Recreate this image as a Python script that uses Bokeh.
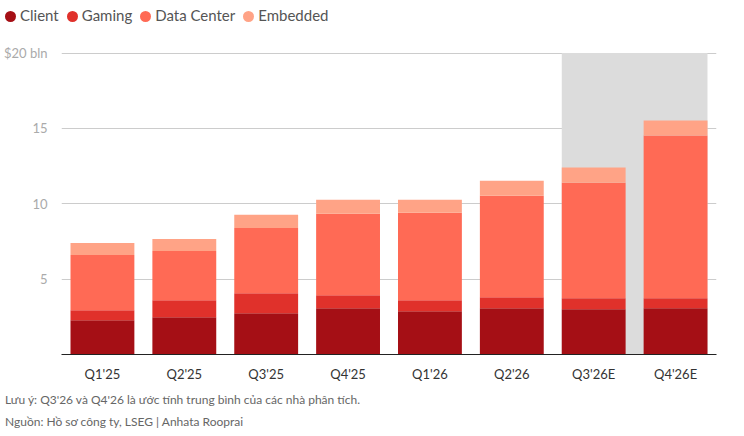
from bokeh.plotting import figure
from bokeh.models import FixedTicker, Div, ColumnDataSource
from bokeh.layouts import column
from bokeh.embed import file_html
from bokeh.resources import INLINE

quarters = ["Q1'25", "Q2'25", "Q3'25", "Q4'25", "Q1'26", "Q2'26", "Q3'26E", "Q4'26E"]
client = [2.27, 2.47, 2.73, 3.07, 2.87, 3.07, 3.00, 3.07]
gaming = [0.66, 1.13, 1.34, 0.86, 0.73, 0.73, 0.73, 0.66]
datacenter = [3.67, 3.27, 4.33, 5.40, 5.80, 6.73, 7.67, 10.80]
embedded = [0.80, 0.80, 0.87, 0.94, 0.87, 1.00, 1.00, 1.00]
estimate_quarters = ["Q3'26E", "Q4'26E"]
series = ["Client", "Gaming", "Data Center", "Embedded"]
colors = ["#a50f15", "#e0312b", "#ff6a55", "#ffa386"]
FONT = "Lato"

legend_html = "".join(
    f"<span style='display:inline-block;width:11px;height:11px;border-radius:50%;background:{c};"
    f"margin-right:4px;vertical-align:-1px'></span><span style='margin-right:8px'>{n}</span>"
    for n, c in zip(series, colors))
legend = Div(text=f"<div style='font-family:Lato;font-size:15px;color:#555;line-height:20px'>{legend_html}</div>",
             width=728, height=28)

p = figure(x_range=quarters, y_range=(0, 20.3), width=728, height=346,
           output_backend="svg", toolbar_location=None,
           min_border_left=50, min_border_right=12, min_border_top=10, min_border_bottom=26)

w = 0.78
i0 = quarters.index(estimate_quarters[0]); i1 = quarters.index(estimate_quarters[-1])
p.quad(left=[i0 + 0.5 - w / 2], right=[i1 + 0.5 + w / 2], bottom=[0], top=[20],
       fill_color="#dcdcdc", line_color=None)

src = ColumnDataSource(dict(q=quarters, Client=client, Gaming=gaming,
                            **{"Data Center": datacenter}, Embedded=embedded))
p.vbar_stack(series, x="q", width=w, source=src, color=colors, line_color=None)

p.yaxis.ticker = FixedTicker(ticks=[5, 10, 15, 20])
p.yaxis.major_label_overrides = {20: "$20 bln"}
p.yaxis.axis_line_color = None
p.yaxis.major_tick_line_color = None
p.yaxis.minor_tick_line_color = None
p.yaxis.major_label_text_font = FONT
p.yaxis.major_label_text_font_size = "13px"
p.yaxis.major_label_text_color = "#aaaaaa"
p.yaxis.major_label_standoff = 8
p.xaxis.axis_line_color = "#222"
p.xaxis.major_tick_line_color = None
p.xaxis.major_label_text_font = FONT
p.xaxis.major_label_text_font_size = "13px"
p.xaxis.major_label_text_color = "#333"
p.xgrid.grid_line_color = None
p.ygrid.grid_line_color = "#cccccc"
p.outline_line_color = None

note = Div(text="<div style='font-family:Lato;font-size:12px;color:#666;line-height:22px'>"
                "Lưu ý: Q3'26 và Q4'26 là ước tính trung bình của các nhà phân tích.<br>"
                "Nguồn: Hồ sơ công ty, LSEG | Anhata Rooprai</div>", width=728, height=46)
layout = column(legend, p, note, spacing=0)
open("out.html", "w").write(file_html(layout, INLINE))
